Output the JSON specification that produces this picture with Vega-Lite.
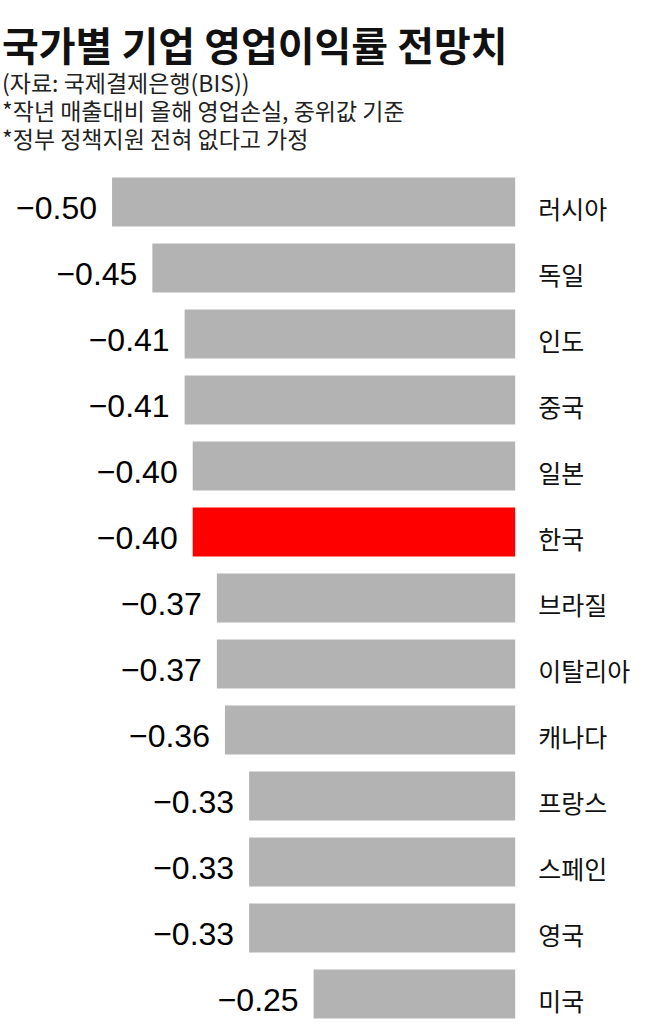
{
  "$schema": "https://vega.github.io/schema/vega-lite/v6.json",
  "width": 649,
  "height": 850,
  "autosize": {"type": "none"},
  "padding": {"top": 173, "left": 0, "right": 0, "bottom": 0},
  "background": "white",
  "title": {
    "text": "국가별 기업 영업이익률 전망치",
    "subtitle": ["(자료: 국제결제은행(BIS))", " *작년 매출대비 올해 영업손실, 중위값 기준", " *정부 정책지원 전혀 없다고 가정"],
    "anchor": "start",
    "frame": "group",
    "offset": 20,
    "dx": 2,
    "font": "Noto Sans CJK KR",
    "fontSize": 40,
    "fontWeight": "bold",
    "color": "#111",
    "subtitleFont": "Noto Sans CJK KR",
    "subtitleFontSize": 23,
    "subtitleColor": "#222",
    "subtitleLineHeight": 28,
    "subtitlePadding": 5
  },
  "data": {
    "values": [
      {"country": "러시아", "value": -0.50},
      {"country": "독일", "value": -0.45},
      {"country": "인도", "value": -0.41},
      {"country": "중국", "value": -0.41},
      {"country": "일본", "value": -0.40},
      {"country": "한국", "value": -0.40},
      {"country": "브라질", "value": -0.37},
      {"country": "이탈리아", "value": -0.37},
      {"country": "캐나다", "value": -0.36},
      {"country": "프랑스", "value": -0.33},
      {"country": "스페인", "value": -0.33},
      {"country": "영국", "value": -0.33},
      {"country": "미국", "value": -0.25}
    ]
  },
  "encoding": {
    "y": {
      "field": "country",
      "type": "nominal",
      "sort": null,
      "axis": null,
      "scale": {"paddingInner": 0.26, "paddingOuter": 0.07}
    }
  },
  "layer": [
    {
      "mark": {"type": "bar"},
      "encoding": {
        "x": {
          "field": "value",
          "type": "quantitative",
          "scale": {"domain": [-0.639, 0.166], "nice": false, "zero": true},
          "axis": null
        },
        "color": {
          "condition": {"test": "datum.country === '한국'", "value": "#ff0000"},
          "value": "#b3b3b3"
        }
      }
    },
    {
      "mark": {
        "type": "text",
        "align": "right",
        "baseline": "alphabetic",
        "dx": -15,
        "dy": 17,
        "font": "Liberation Sans",
        "fontSize": 32,
        "color": "#000"
      },
      "encoding": {
        "x": {"field": "value", "type": "quantitative"},
        "text": {"field": "value", "type": "quantitative", "format": ".2f"}
      }
    },
    {
      "mark": {
        "type": "text",
        "align": "left",
        "baseline": "alphabetic",
        "dx": 23,
        "dy": 17,
        "font": "Noto Sans CJK KR",
        "fontSize": 25,
        "color": "#111"
      },
      "encoding": {
        "x": {"datum": 0, "type": "quantitative"},
        "text": {"field": "country"},
        "fontWeight": {
          "condition": {"test": "datum.country === '한국'", "value": "bold"},
          "value": "normal"
        }
      }
    }
  ],
  "config": {"view": {"stroke": null}}
}
